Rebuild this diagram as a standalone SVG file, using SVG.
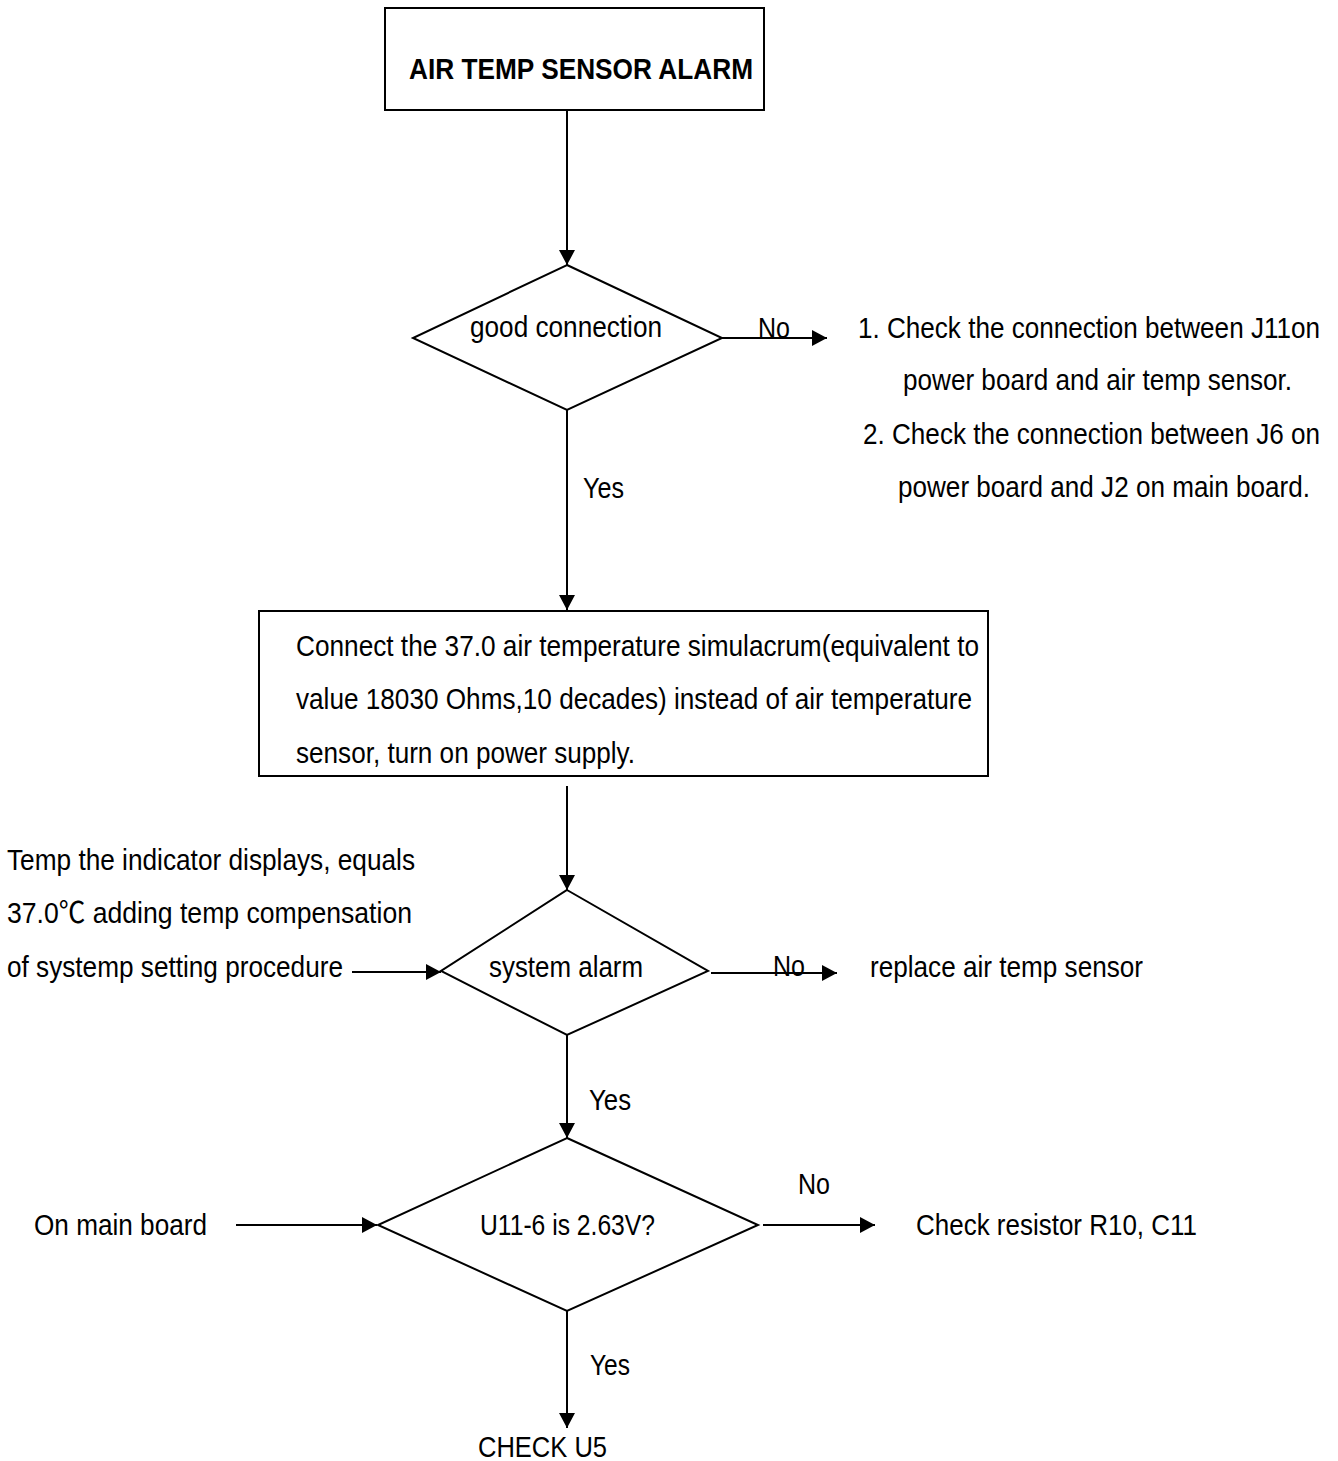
<svg xmlns="http://www.w3.org/2000/svg" width="1338" height="1461" viewBox="0 0 1338 1461">
<style>
.t{font-family:"Liberation Sans","Noto Sans CJK SC",Arial,sans-serif;font-size:29px;fill:#000}
.b{font-weight:bold}
.s{fill:#fff;stroke:#000;stroke-width:2}
.c{fill:none;stroke:#000;stroke-width:2;marker-end:url(#ah)}
</style>
<defs>
<marker id="ah" markerUnits="userSpaceOnUse" markerWidth="15" markerHeight="16" refX="15" refY="8" orient="auto">
<path d="M0,0 L15,8 L0,16 z" fill="#000"/>
</marker>
</defs>
<rect width="1338" height="1461" fill="#fff"/>
<g id="connectors">
<path class="c" d="M567,110 V265"/>
<path class="c" d="M722,338 H827"/>
<path class="c" d="M567,410 V610"/>
<path class="c" d="M567,786 V890"/>
<path class="c" d="M352,972 H441"/>
<path class="c" d="M711,973 H837"/>
<path class="c" d="M567,1035 V1138"/>
<path class="c" d="M236,1225 H377"/>
<path class="c" d="M763,1225 H875"/>
<path class="c" d="M567,1311 V1428"/>
<text class="t" x="758" y="338" textLength="32" lengthAdjust="spacingAndGlyphs">No</text>
<text class="t" x="583" y="498" textLength="41" lengthAdjust="spacingAndGlyphs">Yes</text>
<text class="t" x="773" y="976" textLength="32" lengthAdjust="spacingAndGlyphs">No</text>
<text class="t" x="589" y="1110" textLength="42" lengthAdjust="spacingAndGlyphs">Yes</text>
<text class="t" x="798" y="1194" textLength="32" lengthAdjust="spacingAndGlyphs">No</text>
<text class="t" x="590" y="1375" textLength="40" lengthAdjust="spacingAndGlyphs">Yes</text>
</g>
<g id="start">
<rect class="s" x="385" y="8" width="379" height="102"/>
<text class="t b" x="409" y="79" textLength="344" lengthAdjust="spacingAndGlyphs">AIR TEMP SENSOR ALARM</text>
</g>
<g id="d1">
<polygon class="s" points="567,265 722,338 567,410 413,338"/>
<text class="t" x="470" y="337" textLength="192" lengthAdjust="spacingAndGlyphs">good connection</text>
</g>
<g id="check-connections">
<text class="t" x="858" y="338" textLength="462" lengthAdjust="spacingAndGlyphs">1. Check the connection between J11on</text>
<text class="t" x="903" y="390" textLength="389" lengthAdjust="spacingAndGlyphs">power board and air temp sensor.</text>
<text class="t" x="863" y="444" textLength="457" lengthAdjust="spacingAndGlyphs">2. Check the connection between J6 on</text>
<text class="t" x="898" y="497" textLength="412" lengthAdjust="spacingAndGlyphs">power board and J2 on main board.</text>
</g>
<g id="simulacrum">
<rect class="s" x="259" y="611" width="729" height="165"/>
<text class="t" x="296" y="656" textLength="683" lengthAdjust="spacingAndGlyphs">Connect the 37.0 air temperature simulacrum(equivalent to</text>
<text class="t" x="296" y="709" textLength="676" lengthAdjust="spacingAndGlyphs">value 18030 Ohms,10 decades) instead of air temperature</text>
<text class="t" x="296" y="763" textLength="339" lengthAdjust="spacingAndGlyphs">sensor, turn on power supply.</text>
</g>
<g id="temp-note">
<text class="t" x="7" y="870" textLength="408" lengthAdjust="spacingAndGlyphs">Temp the indicator displays, equals</text>
<text class="t" x="7" y="923" textLength="405" lengthAdjust="spacingAndGlyphs">37.0℃ adding temp compensation</text>
<text class="t" x="7" y="977" textLength="336" lengthAdjust="spacingAndGlyphs">of systemp setting procedure</text>
</g>
<g id="d2">
<polygon class="s" points="567,890 708,971 567,1035 441,971"/>
<text class="t" x="489" y="977" textLength="154" lengthAdjust="spacingAndGlyphs">system alarm</text>
</g>
<g id="replace-sensor">
<text class="t" x="870" y="977" textLength="273" lengthAdjust="spacingAndGlyphs">replace air temp sensor</text>
</g>
<g id="main-board">
<text class="t" x="34" y="1235" textLength="173" lengthAdjust="spacingAndGlyphs">On main board</text>
</g>
<g id="d3">
<polygon class="s" points="567,1138 758,1225 567,1311 378,1225"/>
<text class="t" x="480" y="1235" textLength="175" lengthAdjust="spacingAndGlyphs">U11-6 is 2.63V?</text>
</g>
<g id="check-resistor">
<text class="t" x="916" y="1235" textLength="281" lengthAdjust="spacingAndGlyphs">Check resistor R10, C11</text>
</g>
<g id="check-u5">
<text class="t" x="478" y="1457" textLength="129" lengthAdjust="spacingAndGlyphs">CHECK U5</text>
</g>
</svg>
